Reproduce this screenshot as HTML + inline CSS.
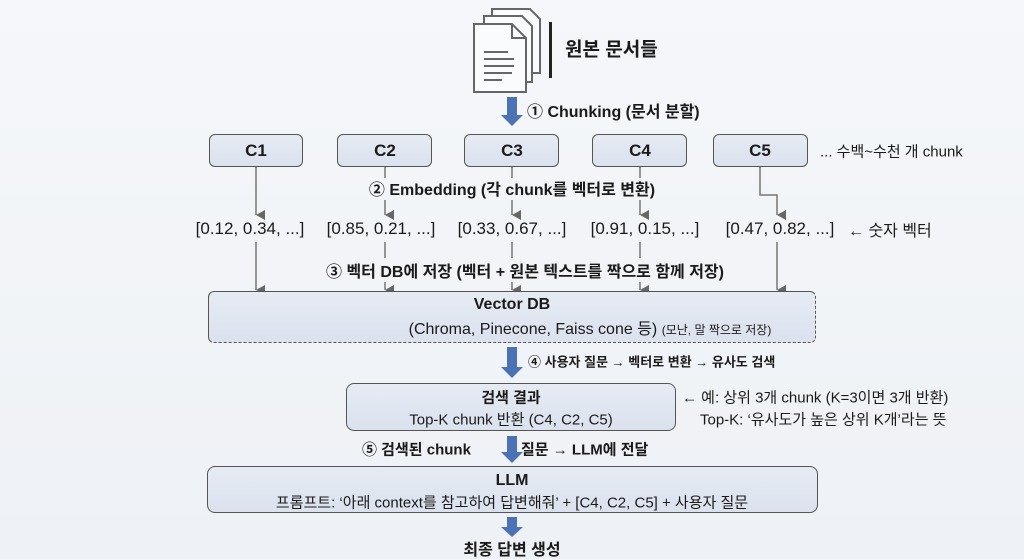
<!DOCTYPE html>
<html><head><meta charset="utf-8"><style>
body{margin:0;width:1024px;height:559px;overflow:hidden;background:linear-gradient(#f5f7fa,#eef1f5);font-family:"Liberation Sans","Noto Sans CJK KR",sans-serif;color:#1a1a1a;position:relative}
.t{position:absolute;white-space:nowrap;transform:translate(-50%,-50%)}
.l{position:absolute;white-space:nowrap;transform:translateY(-50%)}
.b{font-weight:bold}
.box{position:absolute;background:linear-gradient(#e6ebf3,#dbe2ee);border:1.5px solid #555;border-radius:6px;box-sizing:border-box}
</style></head><body>
<svg width="1024" height="559" style="position:absolute;left:0;top:0">
<defs><marker id="a" markerWidth="10" markerHeight="10" refX="5" refY="9" orient="auto" markerUnits="userSpaceOnUse"><path d="M0,0 L10,0 L5,9z" fill="#666"/></marker></defs>
<g stroke="#666" stroke-width="2" fill="#fafbfc">
<path d="M492,9 h38 l10,10 v54 h-48z"/>
<path d="M484,16 h38 l10,10 v56 h-48z"/>
<path d="M474,24 h38 l14,14 v54 h-52z"/>
<path d="M512,24 v14 h14" fill="none"/>
<path d="M484,52h24M484,59h30M484,66h30M484,73h28M484,80h18" fill="none"/>
</g>
<rect x="549" y="22" width="3" height="56" fill="#222"/>
<g fill="#4a72b5">
<path d="M507,97h10v18h6l-11,11l-11,-11h6z"/>
<path d="M507,347h10v20h6l-11,11l-11,-11h6z"/>
<path d="M507,436h10v16h6l-11,11l-11,-11h6z"/>
<path d="M507,517h10v10h6l-11,10l-11,-10h6z"/>
</g>
<g stroke="#777" stroke-width="1.5" fill="none">
<path d="M256,167V215" marker-end="url(#a)"/>
<path d="M385,167V178M385,200V215" marker-end="url(#a)"/>
<path d="M512,167V178M512,200V215" marker-end="url(#a)"/>
<path d="M640,167V178M640,200V215" marker-end="url(#a)"/>
<path d="M760,167V195H777V215" marker-end="url(#a)"/>
<path d="M256,242V290" marker-end="url(#a)"/>
<path d="M385,242V258M385,282V290" marker-end="url(#a)"/>
<path d="M512,242V258M512,282V290" marker-end="url(#a)"/>
<path d="M640,242V258M640,282V290" marker-end="url(#a)"/>
<path d="M777,242V290" marker-end="url(#a)"/>
</g>
</svg>
<div class="l b" style="left:565px;top:48px;font-size:19px">원본 문서들</div>
<div class="l b" style="left:527px;top:110px;font-size:16px">① Chunking (문서 분할)</div>
<div class="box" style="left:209px;top:134px;width:94px;height:33px"></div>
<div class="box" style="left:337px;top:134px;width:95px;height:33px"></div>
<div class="box" style="left:464px;top:134px;width:95px;height:33px"></div>
<div class="box" style="left:592px;top:134px;width:95px;height:33px"></div>
<div class="box" style="left:713px;top:134px;width:95px;height:33px"></div>
<div class="t b" style="left:256px;top:151px;font-size:17px">C1</div>
<div class="t b" style="left:385px;top:151px;font-size:17px">C2</div>
<div class="t b" style="left:512px;top:151px;font-size:17px">C3</div>
<div class="t b" style="left:640px;top:151px;font-size:17px">C4</div>
<div class="t b" style="left:760px;top:151px;font-size:17px">C5</div>
<div class="l" style="left:820px;top:151px;font-size:15px">... 수백~수천 개 chunk</div>
<div class="t b" style="left:512px;top:188px;font-size:16px">② Embedding (각 chunk를 벡터로 변환)</div>
<div class="t" style="left:250px;top:229px;font-size:17px">[0.12, 0.34, ...]</div>
<div class="t" style="left:381px;top:229px;font-size:17px">[0.85, 0.21, ...]</div>
<div class="t" style="left:512px;top:229px;font-size:17px">[0.33, 0.67, ...]</div>
<div class="t" style="left:645px;top:229px;font-size:17px">[0.91, 0.15, ...]</div>
<div class="t" style="left:780px;top:229px;font-size:17px">[0.47, 0.82, ...]</div>
<div class="l" style="left:848px;top:229px;font-size:16px">← 숫자 벡터</div>
<div class="t b" style="left:525px;top:270px;font-size:16px">③ 벡터 DB에 저장 (벡터 + 원본 텍스트를 짝으로 함께 저장)</div>
<div class="box" style="left:208px;top:291px;width:608px;height:52px;border-bottom-style:dashed;border-right-style:dashed"></div>
<div class="t b" style="left:512px;top:305px;font-size:16px">Vector DB</div>
<div class="t" style="left:590px;top:327px;font-size:16px">(Chroma, Pinecone, Faiss cone 등) <span style="font-size:12px">(모난, 말 짝으로 저장)</span></div>
<div class="l b" style="left:528px;top:361px;font-size:13px">④ 사용자 질문 → 벡터로 변환 → 유사도 검색</div>
<div class="box" style="left:346px;top:383px;width:330px;height:48px;border-radius:8px"></div>
<div class="t b" style="left:511px;top:397px;font-size:15px">검색 결과</div>
<div class="t" style="left:511px;top:419px;font-size:15px">Top-K chunk 반환 (C4, C2, C5)</div>
<div class="l" style="left:682px;top:397px;font-size:15px">← 예: 상위 3개 chunk (K=3이면 3개 반환)</div>
<div class="l" style="left:700px;top:419px;font-size:15px">Top-K: ‘유사도가 높은 상위 K개’라는 뜻</div>
<div class="l b" style="left:362px;top:449px;font-size:15px">⑤ 검색된 chunk</div>
<div class="l b" style="left:521px;top:449px;font-size:15px">질문 → LLM에 전달</div>
<div class="box" style="left:207px;top:466px;width:611px;height:47px;border-radius:8px"></div>
<div class="t b" style="left:512px;top:481px;font-size:16px">LLM</div>
<div class="t" style="left:512px;top:502px;font-size:15px">프롬프트: ‘아래 context를 참고하여 답변해줘’ + [C4, C2, C5] + 사용자 질문</div>
<div class="t b" style="left:512px;top:548px;font-size:16px">최종 답변 생성</div>
</body></html>
